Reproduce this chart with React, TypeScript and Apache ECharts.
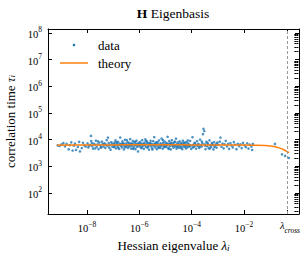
import React, { useEffect, useRef } from 'react';
import * as echarts from 'echarts';

const FONT = "'Liberation Serif', 'Times New Roman', 'DejaVu Serif', serif";

// [log10(eigenvalue), correlation time]
const dataPoints: [number, number][] = [
  [-9.12, 6100], [-9.05, 5800], [-8.97, 6600], [-8.9, 7400], [-8.84, 5600], [-8.78, 6900], [-8.7, 4300],
  [-8.66, 6200], [-8.6, 7900], [-8.55, 3900], [-8.5, 5900], [-8.46, 7100], [-8.42, 4100], [-8.35, 5300],
  [-8.3, 8200], [-8.27, 3600], [-8.2, 4800], [-8.15, 7600], [-8.1, 6000], [-8.05, 5500],
  [-7.98, 7200], [-7.95, 5100], [-7.85, 13800], [-7.88, 6300], [-7.84, 8800], [-7.8, 5700], [-7.77, 4600],
  [-7.73, 7000], [-7.7, 6400], [-7.66, 9100], [-7.63, 5300], [-7.6, 6700], [-7.56, 4400], [-7.53, 7800],
  [-7.5, 6100], [-7.47, 5000], [-7.43, 8400], [-7.4, 6900], [-7.37, 5600], [-7.33, 7300], [-7.3, 4900],
  [-7.27, 6500], [-7.2, 11900], [-7.22, 5800], [-7.17, 7500], [-7.13, 6200], [-7.1, 4200], [-7.07, 8000], [-7.03, 5400],
  [-6.99, 6800], [-6.97, 5200], [-6.95, 7700], [-6.93, 6000], [-6.91, 9400], [-6.89, 4700], [-6.87, 6600],
  [-6.85, 7200], [-6.83, 5500], [-6.81, 8300], [-6.79, 6300], [-6.77, 4500], [-6.75, 7000], [-6.73, 12000],
  [-6.71, 5900], [-6.69, 6900], [-6.67, 5100], [-6.65, 8600], [-6.63, 6100], [-6.61, 7400], [-6.59, 4300],
  [-6.57, 6500], [-6.55, 9800], [-6.53, 5700], [-6.51, 7100], [-6.49, 5300], [-6.47, 6400], [-6.45, 8100],
  [-6.43, 4900], [-6.41, 6700], [-6.39, 7600], [-6.37, 5600], [-6.35, 10500], [-6.33, 6200], [-6.31, 4600],
  [-6.29, 7300], [-6.27, 5800], [-6.25, 8900], [-6.23, 6600], [-6.21, 5000], [-6.19, 7900], [-6.17, 6000],
  [-6.15, 4400], [-6.13, 7000], [-6.11, 9200], [-6.09, 5400], [-6.07, 6800], [-6.05, 3600], [-6.03, 7500], [-6.01, 6100],
  [-5.99, 5500], [-5.97, 8200], [-5.95, 6300], [-5.93, 4800], [-5.91, 7100], [-5.89, 9600], [-5.87, 5900],
  [-5.85, 6700], [-5.83, 4500], [-5.81, 7800], [-5.79, 6200], [-5.77, 10200], [-5.75, 5300], [-5.73, 6900],
  [-5.71, 8500], [-5.69, 5000], [-5.67, 7400], [-5.65, 6000], [-5.63, 4200], [-5.61, 7200], [-5.59, 6500],
  [-5.57, 9000], [-5.55, 5600], [-5.53, 7000], [-5.51, 4700], [-5.49, 6400], [-5.47, 8700], [-5.45, 5800],
  [-5.43, 12300], [-5.41, 6600], [-5.39, 5100], [-5.37, 7600], [-5.35, 6100], [-5.33, 4400], [-5.31, 8000],
  [-5.29, 6800], [-5.27, 5400], [-5.25, 9300], [-5.23, 6300], [-5.21, 4900], [-5.19, 7300], [-5.17, 5700],
  [-5.15, 11000], [-5.13, 6500], [-5.11, 4600], [-5.09, 7700], [-5.07, 6000], [-5.05, 5200], [-5.03, 8400], [-5.01, 6700],
  [-4.98, 5300], [-4.96, 7500], [-4.94, 6200], [-4.92, 12800], [-4.9, 4800], [-4.88, 6900], [-4.86, 8800],
  [-4.84, 5600], [-4.82, 7100], [-4.8, 4300], [-4.78, 6400], [-4.76, 9500], [-4.74, 5900], [-4.72, 7300],
  [-4.7, 5000], [-4.68, 6600], [-4.66, 8300], [-4.64, 5500], [-4.62, 6100], [-4.6, 10800], [-4.58, 4600],
  [-4.56, 7000], [-4.54, 5700], [-4.52, 7900], [-4.5, 6300], [-4.48, 4900], [-4.46, 8600], [-4.44, 6000],
  [-4.42, 5200], [-4.4, 7400], [-4.38, 6700], [-4.36, 4400], [-4.34, 9100], [-4.32, 5800], [-4.3, 6900],
  [-4.28, 5400], [-4.26, 7700], [-4.24, 6200], [-4.22, 4700], [-4.2, 8100], [-4.18, 6500], [-4.16, 5100],
  [-4.14, 7200], [-4.12, 5800], [-4.1, 6400], [-4.08, 5600], [-4.06, 8900], [-4.04, 6000], [-4.02, 4500],
  [-3.97, 12300], [-3.95, 6400], [-3.92, 5300], [-3.89, 7600], [-3.86, 6000], [-3.83, 4600], [-3.8, 8700],
  [-3.77, 5800], [-3.74, 6900], [-3.71, 4900], [-3.68, 9900], [-3.65, 6200], [-3.62, 5500], [-3.59, 7300],
  [-3.57, 16000], [-3.55, 25500], [-3.52, 21000], [-3.5, 6600], [-3.47, 4400], [-3.44, 8200], [-3.41, 5700],
  [-3.38, 7000], [-3.35, 4800], [-3.32, 9400], [-3.29, 6100], [-3.26, 5200], [-3.23, 7500], [-3.2, 6700],
  [-3.17, 4300], [-3.14, 8000], [-3.11, 5900], [-3.08, 6500], [-3.05, 5000], [-3.02, 7800],
  [-2.97, 6300], [-2.93, 8400], [-2.9, 12000], [-2.86, 5400], [-2.82, 7100], [-2.78, 4700], [-2.74, 6600],
  [-2.7, 9000], [-2.65, 5600], [-2.61, 6900], [-2.57, 4500], [-2.52, 7400], [-2.48, 6000], [-2.43, 5100],
  [-2.39, 8100], [-2.34, 6400], [-2.29, 4400], [-2.24, 7000], [-2.19, 5700], [-2.14, 6600], [-2.09, 4800], [-2.04, 7600],
  [-1.98, 6100], [-1.93, 5200], [-1.88, 7300], [-1.83, 4600], [-1.78, 6500], [-1.72, 5500], [-1.66, 6900], [-1.69, 4100],
  [-0.82, 6900], [-0.55, 2800], [-0.43, 2450], [-0.29, 2050],
];

// extra points in the dense middle of the band
const densePoints: [number, number][] = [
  [-7.92, 5900], [-7.81, 7400], [-7.69, 4700], [-7.58, 8600], [-7.45, 5200], [-7.35, 6600], [-7.25, 9500],
  [-7.15, 5000], [-7.05, 6900], [-6.96, 5600], [-6.88, 8000], [-6.8, 4800], [-6.72, 6300], [-6.64, 7100],
  [-6.56, 5100], [-6.48, 9600], [-6.4, 5900], [-6.32, 7000], [-6.24, 4500], [-6.16, 8400], [-6.08, 6200],
  [-5.98, 7000], [-5.9, 5200], [-5.82, 6600], [-5.74, 8900], [-5.66, 5500], [-5.58, 7300], [-5.5, 4300],
  [-5.42, 6900], [-5.34, 7900], [-5.26, 5000], [-5.18, 6400], [-5.1, 9700], [-5.02, 5700], [-4.95, 6800],
  [-4.87, 4500], [-4.79, 7600], [-4.71, 6100], [-4.63, 8200], [-4.55, 5300], [-4.47, 6700], [-4.39, 4900],
  [-4.31, 7800], [-4.23, 5700], [-4.15, 9300], [-4.07, 6300], [-3.96, 5100], [-3.88, 7200], [-3.79, 6500],
  [-3.7, 5400], [-3.61, 8400], [-3.49, 5900], [-3.4, 7600], [-3.31, 4600], [-3.22, 6300], [-3.13, 5300], [-3.04, 6900],
];

const theoryLogLambda = [-9.15, -8, -7, -6, -5, -4, -3, -2, -1.5, -1.2, -1.0, -0.85, -0.7, -0.6, -0.5, -0.4, -0.28];
const theoryTau = [6200, 6300, 6350, 6400, 6400, 6350, 6300, 6250, 6150, 6000, 5800, 5500, 5000, 4700, 4250, 3750, 3240];

const xMajorExps = [-8, -6, -4, -2];
const lambdaCrossLog = -0.36;
const yMajorExps = [2, 3, 4, 5, 6, 7, 8];

const X_MIN = -9.49;
const X_MAX = 0.1;
const Y_MIN = 1.21;
const Y_MAX = 8.15;

const yMinorVals: number[] = [];
for (let n = 1; n <= 8; n++) {
  for (let k = 2; k <= 9; k++) {
    const v = n + Math.log10(k);
    if (v > Y_MIN && v < Y_MAX) yMinorVals.push(v);
  }
}

const xTickVals = [...xMajorExps, lambdaCrossLog];

const labelRich = {
  b: { fontFamily: FONT, fontSize: 10.5, color: '#000', verticalAlign: 'bottom' as const, lineHeight: 14 },
  s: { fontFamily: FONT, fontSize: 7.5, color: '#000', verticalAlign: 'top' as const, lineHeight: 14 },
  l: { fontFamily: FONT, fontSize: 10.5, fontStyle: 'italic' as const, color: '#000', lineHeight: 14, verticalAlign: 'top' as const, padding: [0, 0, 0, 6] },
  c: { fontFamily: FONT, fontSize: 7.5, fontStyle: 'italic' as const, color: '#000', lineHeight: 14, verticalAlign: 'bottom' as const },
};

const nameRich = {
  n: { fontFamily: FONT, fontSize: 13, color: '#000', verticalAlign: 'bottom' as const, lineHeight: 16 },
  t: { fontFamily: FONT, fontSize: 13, fontStyle: 'italic' as const, color: '#000', verticalAlign: 'bottom' as const, lineHeight: 16 },
  i: { fontFamily: FONT, fontSize: 9, fontStyle: 'italic' as const, color: '#000', verticalAlign: 'bottom' as const, lineHeight: 19 },
};

const axisLineStyle = { color: '#000', width: 1 };

export default function App() {
  const ref = useRef<HTMLDivElement>(null);
  useEffect(() => {
    document.body.style.margin = '0';
    if (!ref.current) return;
    const chart = echarts.init(ref.current, null, { renderer: 'svg' });
    const scatterData = [...dataPoints, ...densePoints].map(([l, t]) => [l, Math.log10(t)]);
    const theoryData = theoryLogLambda.map((l, i) => [l, Math.log10(theoryTau[i])]);
    const yCommon = { type: 'value' as const, min: Y_MIN, max: Y_MAX, splitLine: { show: false } };
    const xCommon = { type: 'value' as const, min: X_MIN, max: X_MAX, splitLine: { show: false } };
    chart.setOption({
      animation: false,
      backgroundColor: '#fff',
      grid: { left: 48, right: 7, top: 29, bottom: 45, containLabel: false, outerBoundsMode: 'none' },
      xAxis: [
        {
          ...xCommon,
          position: 'bottom',
          axisLine: { show: true, onZero: false, lineStyle: axisLineStyle },
          axisTick: { show: true, inside: true, length: 4, customValues: xTickVals, lineStyle: axisLineStyle },
          axisLabel: {
            show: true,
            margin: 6,
            customValues: xTickVals,
            formatter: (v: number) =>
              Math.abs(v - lambdaCrossLog) < 1e-6 ? '{l|λ}{c|cross}' : `{b|10}{s|−${Math.abs(v)}}`,
            rich: labelRich,
          },
          name: '{n|Hessian eigenvalue }{t|λ}{i|i}',
          nameLocation: 'middle',
          nameGap: 19,
          nameTextStyle: { rich: nameRich },
        },
        {
          ...xCommon,
          position: 'top',
          axisLine: { show: true, onZero: false, lineStyle: axisLineStyle },
          axisTick: { show: true, inside: true, length: 4, customValues: xTickVals, lineStyle: axisLineStyle },
          axisLabel: { show: false },
        },
      ],
      yAxis: [
        {
          ...yCommon,
          position: 'left',
          axisLine: { show: true, onZero: false, lineStyle: axisLineStyle },
          axisTick: { show: true, inside: true, length: 4, customValues: yMajorExps, lineStyle: axisLineStyle },
          axisLabel: {
            show: true,
            margin: 6,
            customValues: yMajorExps,
            formatter: (v: number) => `{b|10}{s|${Math.round(v)}}`,
            rich: labelRich,
          },
          name: '{n|correlation time }{t|τ}{i|i}',
          nameLocation: 'middle',
          nameRotate: 90,
          nameGap: 27,
          nameTextStyle: { rich: nameRich, align: 'center', verticalAlign: 'bottom' },
        },
        {
          ...yCommon,
          position: 'left',
          axisLine: { show: false },
          axisTick: { show: true, inside: true, length: 2, customValues: yMinorVals, lineStyle: axisLineStyle },
          axisLabel: { show: false },
        },
        {
          ...yCommon,
          position: 'right',
          axisLine: { show: true, onZero: false, lineStyle: axisLineStyle },
          axisTick: { show: true, inside: true, length: 4, customValues: yMajorExps, lineStyle: axisLineStyle },
          axisLabel: { show: false },
        },
        {
          ...yCommon,
          position: 'right',
          axisLine: { show: false },
          axisTick: { show: true, inside: true, length: 2, customValues: yMinorVals, lineStyle: axisLineStyle },
          axisLabel: { show: false },
        },
      ],
      series: [
        {
          type: 'scatter',
          name: 'data',
          xAxisIndex: 0,
          yAxisIndex: 0,
          data: scatterData,
          symbol: 'circle',
          symbolSize: 2.6,
          itemStyle: { color: '#1f77b4' },
          z: 2,
          markLine: {
            silent: true,
            symbol: ['none', 'none'],
            label: { show: false },
            lineStyle: { type: [3, 2], color: '#9a9a9a', width: 1 },
            data: [{ xAxis: lambdaCrossLog }],
          },
        },
        {
          type: 'line',
          name: 'theory',
          xAxisIndex: 0,
          yAxisIndex: 0,
          data: theoryData,
          showSymbol: false,
          smooth: 0.3,
          lineStyle: { color: '#ff7f0e', width: 1.5 },
          z: 3,
        },
      ],
      graphic: [
        {
          type: 'text',
          x: 173,
          y: 13,
          style: {
            text: '{b|H}{n| Eigenbasis}',
            align: 'center',
            verticalAlign: 'middle',
            rich: {
              b: { fontFamily: FONT, fontSize: 13.5, fontWeight: 'bold', fill: '#000' },
              n: { fontFamily: FONT, fontSize: 13.5, fill: '#000' },
            },
          },
        },
        { type: 'circle', shape: { cx: 74, cy: 45, r: 1.3 }, style: { fill: '#1f77b4' } },
        { type: 'line', shape: { x1: 60, y1: 63, x2: 88, y2: 63 }, style: { stroke: '#ff7f0e', lineWidth: 1.5 } },
        {
          type: 'text',
          x: 98,
          y: 45,
          style: { text: 'data', fontFamily: FONT, fontSize: 13, fill: '#000', align: 'left', verticalAlign: 'middle' },
        },
        {
          type: 'text',
          x: 98,
          y: 63,
          style: { text: 'theory', fontFamily: FONT, fontSize: 13, fill: '#000', align: 'left', verticalAlign: 'middle' },
        },
      ],
    });
    return () => chart.dispose();
  }, []);
  return <div ref={ref} style={{ width: 306, height: 259 }} />;
}
